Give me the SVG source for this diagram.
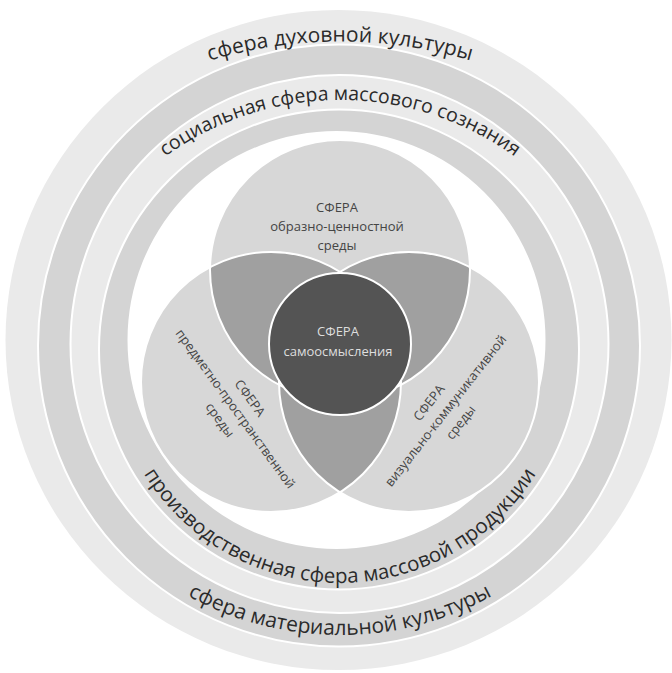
<svg xmlns="http://www.w3.org/2000/svg" width="672" height="673" viewBox="0 0 672 673">
<style>
.ring-l{fill:#eaeaea}
.ring-m{fill:#d4d4d4}
.sep{stroke:#ffffff;stroke-width:2}
.venn{fill:#d7d7d7}
.lens{fill:#a0a0a0}
.outline{fill:none;stroke:#ffffff;stroke-width:2}
.rt{font-family:"Open Sans","Noto Sans","DejaVu Sans",sans-serif;font-size:21px;fill:#2b2b2b}
.vt{font-family:"Open Sans","Noto Sans","DejaVu Sans",sans-serif;font-size:13px;fill:#454545;text-anchor:middle}
.ct{font-family:"Open Sans","Noto Sans","DejaVu Sans",sans-serif;font-size:13px;fill:#dedede;text-anchor:middle}
</style>
<defs>
<path id="p1" d="M -56 270.5 A 457 457 0 0 1 736 270.5"/>
<path id="p2" d="M 42 398 A 298 298 0 0 1 638 398"/>
<path id="p3" d="M 109 352 A 231 231 0 0 0 571 352"/>
<path id="p4" d="M 24 319 A 316 316 0 0 0 656 319"/>
<clipPath id="clipA"><circle cx="340" cy="270" r="130"/></clipPath>
<clipPath id="clipB"><circle cx="271" cy="382" r="130"/></clipPath>
</defs>
<rect width="672" height="673" fill="#ffffff"/>
<g id="ring-outer">
<ellipse class="ring-l" cx="338.5" cy="340" rx="333" ry="330"/>
</g>
<g id="ring-3">
<circle class="ring-m sep" cx="339" cy="345.5" r="301"/>
</g>
<g id="ring-2">
<circle class="ring-l sep" cx="339.5" cy="344" r="269"/>
</g>
<g id="ring-1">
<circle class="ring-m sep" cx="339" cy="349.5" r="240"/>
</g>
<g id="inner-field">
<circle cx="336.5" cy="340" r="208" fill="#ffffff" class="sep"/>
</g>
<g id="ring-labels">
<text class="rt"><textPath href="#p1" startOffset="50%" text-anchor="middle">сфера духовной культуры</textPath></text>
<text class="rt" style="font-size:19.5px"><textPath href="#p2" startOffset="50%" text-anchor="middle">социальная сфера массового сознания</textPath></text>
<text class="rt" style="font-size:20.5px"><textPath href="#p3" startOffset="50%" text-anchor="middle">производственная сфера массовой продукции</textPath></text>
<text class="rt"><textPath href="#p4" startOffset="50%" text-anchor="middle">сфера материальной культуры</textPath></text>
</g>
<g id="venn-top">
<circle class="venn" cx="340" cy="270" r="130"/>
</g>
<g id="venn-left">
<circle class="venn" cx="271" cy="382" r="130"/>
</g>
<g id="venn-right">
<circle class="venn" cx="409" cy="382" r="130"/>
</g>
<g id="overlaps">
<circle class="lens" cx="271" cy="382" r="130" clip-path="url(#clipA)"/>
<circle class="lens" cx="409" cy="382" r="130" clip-path="url(#clipA)"/>
<circle class="lens" cx="409" cy="382" r="130" clip-path="url(#clipB)"/>
<circle class="outline" cx="340" cy="270" r="130"/>
<circle class="outline" cx="271" cy="382" r="130"/>
<circle class="outline" cx="409" cy="382" r="130"/>
</g>
<g id="venn-top-label">
<text class="vt" x="337" y="212">СФЕРА</text>
<text class="vt" x="337" y="231">образно-ценностной</text>
<text class="vt" x="337" y="250">среды</text>
</g>
<g id="venn-left-label" transform="translate(235,409) rotate(54)">
<text class="vt" x="0" y="-14">СФЕРА</text>
<text class="vt" x="0" y="4">предметно-пространственной</text>
<text class="vt" x="0" y="23">среды</text>
</g>
<g id="venn-right-label" transform="translate(446,411) rotate(-52)">
<text class="vt" x="-4" y="-14">СФЕРА</text>
<text class="vt" x="0" y="4">визуально-коммуникативной</text>
<text class="vt" x="0" y="23">среды</text>
</g>
<g id="center">
<circle cx="340" cy="344" r="71" fill="#545454" stroke="#ffffff" stroke-width="2"/>
<text class="ct" x="338" y="336">СФЕРА</text>
<text class="ct" x="338" y="356">самоосмысления</text>
</g>
</svg>
